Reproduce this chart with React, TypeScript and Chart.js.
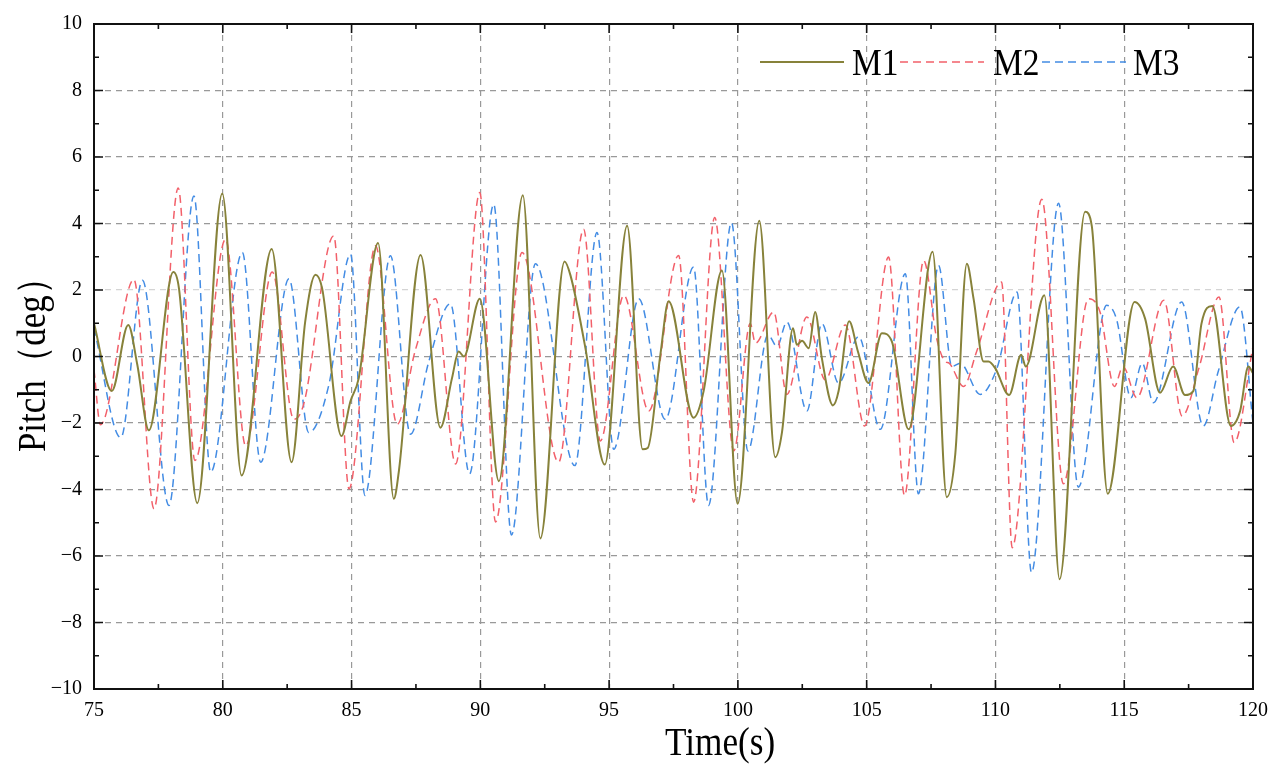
import React, { useEffect, useRef } from 'react';
import { Chart, registerables } from 'chart.js';

Chart.register(...registerables);

// values (time in s, pitch in deg)
const m1Time = [75, 75.69, 76.33, 76.68, 77.13, 78.08, 78.3, 79.01, 79.98, 80.73, 81.9, 82.67, 83.2, 83.6, 83.86, 84.61, 84.96, 85.28, 86.03, 86.64, 86.84, 87.68, 88.45, 88.9, 89.16, 89.36, 89.98, 90.72, 91.65, 92.33, 93.27, 93.5, 94.08, 94.83, 95.7, 96.3, 96.5, 96.99, 97.31, 98.28, 98.67, 99.38, 99.99, 100.83, 101.45, 101.71, 102.14, 102.29, 102.49, 102.75, 103.0, 103.26, 103.69, 103.91, 104.32, 104.66, 105.07, 105.59, 105.98, 106.63, 107.56, 108.11, 108.44, 108.89, 109.15, 109.54, 109.73, 109.99, 110.53, 111.0, 111.18, 111.9, 112.49, 113.48, 113.74, 114.36, 115.4, 115.81, 116.39, 116.9, 117.36, 117.68, 118.0, 118.42, 119.14, 119.5, 119.82, 120];
const m1Pitch = [1.0, -1.04, 0.95, -0.24, -2.22, 2.54, 2.04, -4.41, 4.9, -3.58, 3.23, -3.18, 1.05, 2.46, 2.04, -2.39, -1.34, -0.65, 3.41, -4.28, -3.43, 3.05, -2.14, -0.65, 0.15, 0.0, 1.74, -3.75, 4.85, -5.47, 2.86, 2.44, 0.25, -3.25, 3.93, -2.79, -2.75, 0.05, 1.66, -1.84, -1.04, 2.59, -4.43, 4.08, -3.03, -2.29, 0.85, 0.35, 0.47, 0.25, 1.34, -0.05, -1.47, -1.04, 1.06, 0.15, -0.8, 0.7, 0.45, -2.19, 3.15, -4.23, -2.94, 2.79, 1.74, -0.15, -0.15, -0.35, -1.16, 0.05, -0.3, 1.84, -6.7, 4.35, 3.93, -4.13, 1.64, 1.14, -1.09, -0.3, -1.16, -1.04, 0.99, 1.52, -2.09, -1.64, -0.3, -0.5];

const m2Time = [75, 75.25, 76.55, 77.33, 78.27, 78.92, 80.11, 80.89, 81.92, 82.76, 83.14, 84.31, 84.9, 85.93, 86.77, 87.48, 88.26, 89.04, 89.98, 90.59, 91.62, 93.04, 94.01, 94.66, 95.57, 96.54, 97.7, 98.28, 99.1, 99.84, 100.48, 100.68, 101.39, 101.9, 102.68, 103.39, 104.17, 104.92, 105.85, 106.47, 107.21, 107.73, 108.05, 108.2, 108.76, 109.27, 110.24, 110.65, 111.8, 112.64, 113.61, 114.06, 114.62, 114.95, 115.49, 116.54, 117.25, 117.9, 118.68, 119.27, 120];
const m2Pitch = [-0.4, -2.05, 2.32, -4.58, 5.07, -3.13, 3.53, -2.69, 2.54, -1.89, -1.44, 3.63, -3.98, 3.33, -2.04, 0.2, 1.74, -3.23, 4.93, -4.98, 3.13, -3.18, 3.83, -2.54, 1.84, -1.64, 3.04, -4.38, 4.18, -2.84, 0.99, 0.4, 1.34, -1.14, 1.19, -0.7, 0.95, -2.09, 2.99, -4.18, 2.89, 0.5, -0.15, -0.2, -0.9, 0.15, 2.24, -5.75, 4.73, -3.83, 1.74, 1.34, -0.9, -0.3, -1.24, 1.69, -1.79, -0.35, 1.79, -2.59, 0.3];

const m3Time = [75, 76.04, 76.88, 77.91, 78.88, 79.53, 80.76, 81.47, 82.57, 83.34, 84.12, 84.96, 85.52, 86.51, 87.29, 88.0, 88.84, 89.58, 90.52, 91.21, 92.14, 93.67, 94.53, 95.18, 96.15, 97.18, 98.28, 98.86, 99.75, 100.39, 101.17, 101.52, 101.9, 102.68, 103.26, 103.91, 104.69, 105.53, 106.5, 107.01, 107.79, 108.31, 108.63, 109.41, 110.06, 110.84, 111.4, 112.45, 113.22, 114.32, 114.71, 115.26, 115.7, 116.13, 117.23, 118.07, 118.65, 119.49, 120];
const m3Pitch = [0.85, -2.44, 2.29, -4.48, 4.83, -3.48, 3.13, -3.18, 2.34, -2.29, -0.85, 3.08, -4.18, 3.03, -2.34, -0.15, 1.59, -3.53, 4.58, -5.37, 2.79, -3.28, 3.73, -2.79, 1.74, -1.89, 2.69, -4.48, 4.03, -2.84, 0.65, 0.3, 1.04, -1.64, 0.99, -0.8, 0.6, -2.19, 2.49, -4.13, 2.74, -0.3, -0.2, -1.14, -0.35, 1.94, -6.5, 4.61, -3.93, 1.54, 1.1, -1.24, -0.2, -1.39, 1.64, -2.09, -0.45, 1.49, -2.0];

const seriesNames = ['M1', 'M2', 'M3'];
const timeTicks = [75, 80, 85, 90, 95, 100, 105, 110, 115, 120];
const pitchTicks = [-10, -8, -6, -4, -2, 0, 2, 4, 6, 8, 10];

const colors = ['#87823a', '#f2606a', '#438ce4'];
const dashes: number[][] = [[], [8, 5], [8, 5]];

const toPoints = (t: number[], p: number[]) => t.map((x, i) => ({ x, y: p[i] }));

const serif = "'Liberation Serif', 'Times New Roman', serif";

const decorPlugin = {
  id: 'decor',
  afterDraw(chart: any) {
    const { ctx, chartArea: a, scales } = chart;
    const xs = scales.x;
    const ys = scales.y;
    ctx.save();

    // frame
    ctx.strokeStyle = '#111';
    ctx.lineWidth = 2;
    ctx.setLineDash([]);
    ctx.strokeRect(a.left, a.top, a.right - a.left, a.bottom - a.top);

    // inward ticks, major + minor
    ctx.lineWidth = 1.6;
    ctx.beginPath();
    for (let v = 75; v <= 120.01; v += 2.5) {
      const px = xs.getPixelForValue(v);
      const len = Math.abs(v % 5) < 0.01 ? 9 : 5;
      ctx.moveTo(px, a.bottom);
      ctx.lineTo(px, a.bottom - len);
      ctx.moveTo(px, a.top);
      ctx.lineTo(px, a.top + len);
    }
    for (let v = -10; v <= 10; v += 1) {
      const py = ys.getPixelForValue(v);
      const len = v % 2 === 0 ? 9 : 5;
      ctx.moveTo(a.left, py);
      ctx.lineTo(a.left + len, py);
      ctx.moveTo(a.right, py);
      ctx.lineTo(a.right - len, py);
    }
    ctx.stroke();

    // legend
    const legendX = [760, 900, 1042];
    const textX = [852, 993, 1133];
    seriesNames.forEach((name, i) => {
      ctx.strokeStyle = colors[i];
      ctx.lineWidth = i === 0 ? 2 : 1.6;
      ctx.setLineDash(dashes[i]);
      ctx.beginPath();
      ctx.moveTo(legendX[i], 62);
      ctx.lineTo(legendX[i] + 84, 62);
      ctx.stroke();
      ctx.setLineDash([]);
      ctx.save();
      ctx.translate(textX[i], 75);
      ctx.scale(0.88, 1);
      ctx.fillStyle = '#000';
      ctx.font = `38px ${serif}`;
      ctx.textAlign = 'left';
      ctx.textBaseline = 'alphabetic';
      ctx.fillText(name, 0, 0);
      ctx.restore();
    });

    // axis titles
    ctx.fillStyle = '#000';
    ctx.font = `40px ${serif}`;
    ctx.textAlign = 'left';
    ctx.textBaseline = 'alphabetic';
    ctx.save();
    ctx.translate(665, 755);
    ctx.scale(0.88, 1);
    ctx.fillText('Time(s)', 0, 0);
    ctx.restore();

    ctx.save();
    ctx.translate(45, 452);
    ctx.rotate(-Math.PI / 2);
    ctx.scale(0.87, 1);
    ctx.fillText('Pitch（deg）', 0, 0);
    ctx.restore();

    ctx.restore();
  },
};

const gridColor = (c: any) => (c.tick && c.tick.value === 2 ? '#d4d4d4' : '#999999');

const App: React.FC = () => {
  const canvasRef = useRef<HTMLCanvasElement>(null);
  const chartRef = useRef<Chart | null>(null);

  useEffect(() => {
    if (!canvasRef.current) return;
    if (chartRef.current) chartRef.current.destroy();

    const series = [toPoints(m1Time, m1Pitch), toPoints(m2Time, m2Pitch), toPoints(m3Time, m3Pitch)];

    chartRef.current = new Chart(canvasRef.current, {
      type: 'line',
      data: {
        datasets: series.map((data, i) => ({
          label: seriesNames[i],
          data,
          borderColor: colors[i],
          borderWidth: i === 0 ? 2 : 1.5,
          borderDash: dashes[i],
          pointRadius: 0,
          fill: false,
          cubicInterpolationMode: 'monotone' as const,
        })),
      },
      options: {
        responsive: false,
        animation: false,
        layout: { padding: { top: 18, right: 26, left: 0, bottom: 0 } },
        plugins: {
          legend: { display: false },
          tooltip: { enabled: false },
        },
        scales: {
          x: {
            type: 'linear',
            min: 75,
            max: 120,
            afterBuildTicks: (scale: any) => {
              scale.ticks = timeTicks.map((value) => ({ value }));
            },
            afterFit: (scale: any) => {
              scale.height = 81;
            },
            grid: { color: '#999999', lineWidth: 1.2, drawTicks: false },
            border: { display: false, dash: [6, 5] },
            ticks: {
              padding: 10,
              color: '#000',
              font: { family: serif, size: 20 },
              maxRotation: 0,
            },
          },
          y: {
            type: 'linear',
            min: -10,
            max: 10,
            afterBuildTicks: (scale: any) => {
              scale.ticks = pitchTicks.map((value) => ({ value }));
            },
            afterFit: (scale: any) => {
              scale.width = 94;
            },
            grid: { color: gridColor, lineWidth: 1.2, drawTicks: false },
            border: { display: false, dash: [6, 5] },
            ticks: {
              padding: 12,
              color: '#000',
              font: { family: serif, size: 20 },
              callback: (v: any) => (Number(v) < 0 ? '\u2212' + Math.abs(Number(v)) : String(v)),
            },
          },
        },
      },
      plugins: [decorPlugin],
    });

    return () => {
      if (chartRef.current) {
        chartRef.current.destroy();
        chartRef.current = null;
      }
    };
  }, []);

  return (
    <div style={{ position: 'absolute', left: 0, top: 0, width: 1279, height: 770, background: '#fff' }}>
      <canvas ref={canvasRef} width={1279} height={770} />
    </div>
  );
};

export default App;
